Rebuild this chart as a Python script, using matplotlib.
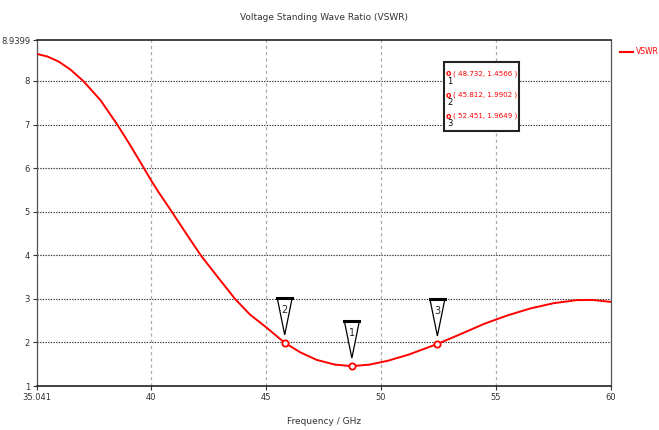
import matplotlib.pyplot as plt
from matplotlib.patches import Polygon, Rectangle

freq = [35.041, 35.5, 36.0, 36.5, 37.05, 37.8, 38.53, 39.1, 39.69, 40.0, 40.3,
        40.9, 41.5, 42.16, 42.9, 43.65, 44.3, 45.0, 45.812, 46.5, 47.2, 48.0,
        48.732, 49.5, 50.3, 51.2, 52.451, 53.5, 54.5, 55.5, 56.5, 57.5, 58.5,
        59.2, 60.0]
vswr = [8.62, 8.56, 8.44, 8.26, 8.0, 7.56, 7.0, 6.52, 6.0, 5.72, 5.47,
        5.0, 4.52, 4.0, 3.5, 3.0, 2.64, 2.35, 1.99, 1.77, 1.6, 1.49,
        1.4566, 1.49, 1.58, 1.72, 1.9649, 2.2, 2.43, 2.62, 2.78, 2.9, 2.97,
        2.975, 2.93]

marker_ids = ["1", "2", "3"]
marker_x = [48.732, 45.812, 52.451]
marker_y = [1.4566, 1.9902, 1.9649]

x_ticks = [35.041, 40, 45, 50, 55, 60]
x_labels = ["35.041", "40", "45", "50", "55", "60"]
y_ticks = [1, 2, 3, 4, 5, 6, 7, 8, 8.9399]
y_labels = ["1", "2", "3", "4", "5", "6", "7", "8", "8.9399"]

plt.rcParams["font.family"] = ["DejaVu Sans"]

fig = plt.figure(figsize=(6.59, 4.30), dpi=100)
ax = fig.add_axes([37 / 659, 1 - 386 / 430, 574 / 659, 346 / 430])

ax.plot(freq, vswr, color="red", lw=1.4, label="VSWR", zorder=3)
ax.plot(marker_x, marker_y, "o", ms=4.5, mfc="white", mec="red", mew=1.3, zorder=4)

ax.set_xlim(35.041, 60)
ax.set_ylim(1, 8.9399)
ax.set_xticks(x_ticks)
ax.set_xticklabels(x_labels)
ax.set_yticks(y_ticks)
ax.set_yticklabels(y_labels)
ax.tick_params(labelsize=6, colors="#333333", length=3, width=0.8, pad=2)

for v in [40, 45, 50, 55]:
    ax.axvline(v, color="#aaaaaa", lw=0.9, ls=(0, (2.5, 2.5)), zorder=1)
for v in [2, 3, 4, 5, 6, 7, 8]:
    ax.axhline(v, color="#333333", lw=0.8, ls=(0, (1.2, 1.2)), zorder=1)

for sp in ax.spines.values():
    sp.set_color("#555555")
    sp.set_linewidth(0.9)
ax.spines["top"].set_color("#222222")
ax.spines["top"].set_linewidth(1.2)
ax.spines["bottom"].set_color("#222222")
ax.spines["bottom"].set_linewidth(1.2)

# marker triangles above each marker point (pixel offsets)
for mid, mx, my in zip(marker_ids, marker_x, marker_y):
    px, py = ax.transData.transform((mx, my))
    tip = py + 8
    top = py + 45
    tri = Polygon([(px - 7.5, top), (px + 7.5, top), (px, tip)], closed=True,
                  transform=None, facecolor="white", edgecolor="black", lw=0.9, zorder=5)
    fig.patches.append(tri)
    fig.lines.append(plt.Line2D([px - 7.5, px + 7.5], [top, top], transform=None,
                                color="black", lw=2.2, zorder=6))
    fig.text(px / fig.bbox.width, (top - 12) / fig.bbox.height, mid,
             ha="center", va="center", fontsize=7, color="#222222", zorder=7)

# marker readout box
fig.patches.append(Rectangle((444 / 659, 1 - 131 / 430), 75 / 659, 69 / 430,
                             transform=fig.transFigure, facecolor="white",
                             edgecolor="#222222", lw=1.5, zorder=5))
for i, (mid, mx, my) in enumerate(zip(marker_ids, marker_x, marker_y)):
    yy = 1 - (74 + i * 21) / 430
    fig.text(448 / 659, yy, "o", color="red", fontsize=5.5, fontweight="bold",
             ha="center", va="center", zorder=6)
    fig.text(450 / 659, yy - 8 / 430, mid, color="black", fontsize=6,
             ha="center", va="center", zorder=6)
    fig.text(453 / 659, yy, f"( {mx:.3f}, {my:.4f} )", color="red", fontsize=5.1,
             ha="left", va="center", zorder=6)

fig.text(324 / 659, 1 - 18 / 430, "Voltage Standing Wave Ratio (VSWR)",
         ha="center", va="center", fontsize=6.5, color="#333333")
fig.text(324 / 659, 1 - 422 / 430, "Frequency / GHz",
         ha="center", va="center", fontsize=6.5, color="#333333")

fig.lines.append(plt.Line2D([620 / 659, 633 / 659], [1 - 52 / 430, 1 - 52 / 430],
                            transform=fig.transFigure, color="red", lw=1.5))
fig.text(636 / 659, 1 - 52 / 430, "VSWR", ha="left", va="center",
         fontsize=5.5, color="red")

fig.savefig("out.png", dpi=100)
